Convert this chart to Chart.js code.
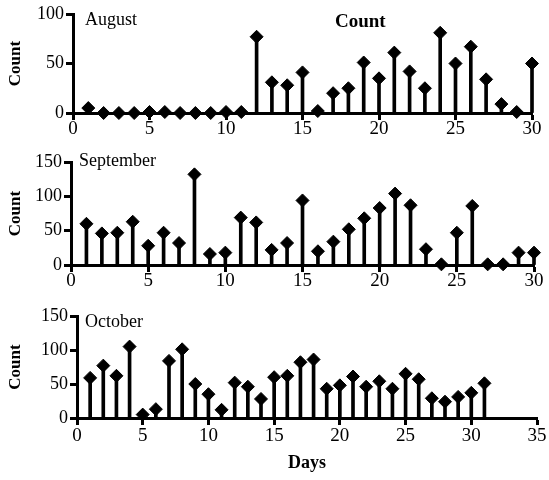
<!DOCTYPE html>
<html><head><meta charset="utf-8">
<script src="https://cdn.jsdelivr.net/npm/chart.js@4/dist/chart.umd.min.js"></script>
<style>
body{margin:0;background:#fff;width:549px;height:480px;overflow:hidden;position:relative;font-family:"Liberation Serif",serif;}
canvas{position:absolute;left:0;}
.lbl{position:absolute;font-family:"Liberation Serif",serif;font-size:18px;line-height:18px;color:#000;white-space:nowrap;}
</style></head><body>
<canvas id="c1" width="549" height="140" style="top:0px"></canvas>
<canvas id="c2" width="549" height="150" style="top:140px"></canvas>
<canvas id="c3" width="549" height="190" style="top:290px"></canvas>
<div class="lbl" style="left:85px;top:10px">August</div>
<div class="lbl" style="left:335px;top:12px;font-weight:bold;font-size:19px">Count</div>
<div class="lbl" style="left:79px;top:151px">September</div>
<div class="lbl" style="left:85px;top:312px">October</div>
<script>
const augDays = Array.from({length:30},(_, i)=>i+1);
const augCounts = [5,0,0,0,1,1,0,0,0,1,1,77,31,28,41,2,20,25,51,35,61,42,25,81,50,67,34,9,1,50];
const sepDays = Array.from({length:30},(_, i)=>i+1);
const sepCounts = [60,46,47,63,28,47,32,132,16,18,69,62,22,32,94,20,34,52,68,83,104,87,23,1,47,86,1,1,18,18];
const octDays = Array.from({length:31},(_, i)=>i+1);
const octCounts = [59,77,62,105,5,13,84,101,50,35,12,52,46,28,60,62,82,86,43,48,61,46,54,43,65,57,29,24,31,37,51];
const augYTicks = [0,50,100];
const sepYTicks = [0,50,100,150];
const octYTicks = [0,50,100,150];
const xTitle = 'Days';
const yTitle = 'Count';

const FAM = '"Liberation Serif", serif';

function makeChart(id, days, counts, yTicks, xMax, lay){
  const pts = days.map((d,i)=>({x:d, y:counts[i]}));
  return new Chart(document.getElementById(id), {
    type:'bar',
    data:{datasets:[
      {type:'line', data:pts, showLine:false, pointStyle:'rectRot', pointRadius:6.5,
       pointBackgroundColor:'#000', pointBorderColor:'#000', pointBorderWidth:1, order:1, clip:false},
      {type:'bar', data:pts, backgroundColor:'#000', barThickness:3, order:2, clip:false}
    ]},
    options:{
      responsive:false, animation:false, events:[],
      layout:{padding:{top:lay.top, right:lay.right, left:0, bottom:0}},
      plugins:{legend:{display:false}, tooltip:{enabled:false}},
      scales:{
        x:{type:'linear', min:0, max:xMax, offset:false,
           ticks:{stepSize:5, color:'#000', font:{family:FAM, size:19}, padding:lay.xpad, maxRotation:0, autoSkip:false},
           grid:{display:true, offset:false, drawOnChartArea:false, drawTicks:true, tickLength:7, tickWidth:3, tickColor:'#000'},
           border:{display:true, color:'#000', width:3},
           title:{display:!!lay.xTitle, text:xTitle, color:'#000', font:{family:FAM, size:18, weight:'bold'}, padding:{top:0,bottom:lay.xTitlePad||6}},
           afterFit:s=>{s.height = lay.xh;}
        },
        y:{min:0, max:yTicks[yTicks.length-1],
           afterBuildTicks:s=>{s.ticks = yTicks.map(v=>({value:v}));},
           ticks:{color:'#000', font:{family:FAM, size:18}, padding:2},
           grid:{display:true, drawOnChartArea:false, drawTicks:true, tickLength:7, tickWidth:3, tickColor:'#000'},
           border:{display:true, color:'#000', width:3},
           title:{display:true, text:yTitle, color:'#000', font:{family:FAM, size:17, weight:'bold'}, padding:{top:5,bottom:0}},
           afterFit:s=>{s.width = lay.left;}
        }
      }
    }
  });
}
makeChart('c1', augDays, augCounts, augYTicks, 30, {left:73, right:17, top:14, xh:27, xpad:-2});
makeChart('c2', sepDays, sepCounts, sepYTicks, 30, {left:71, right:15, top:22, xh:25, xpad:-2});
makeChart('c3', octDays, octCounts, octYTicks, 35, {left:77, right:12, top:26, xh:62, xpad:0, xTitle:true, xTitlePad:6});
</script>
</body></html>
